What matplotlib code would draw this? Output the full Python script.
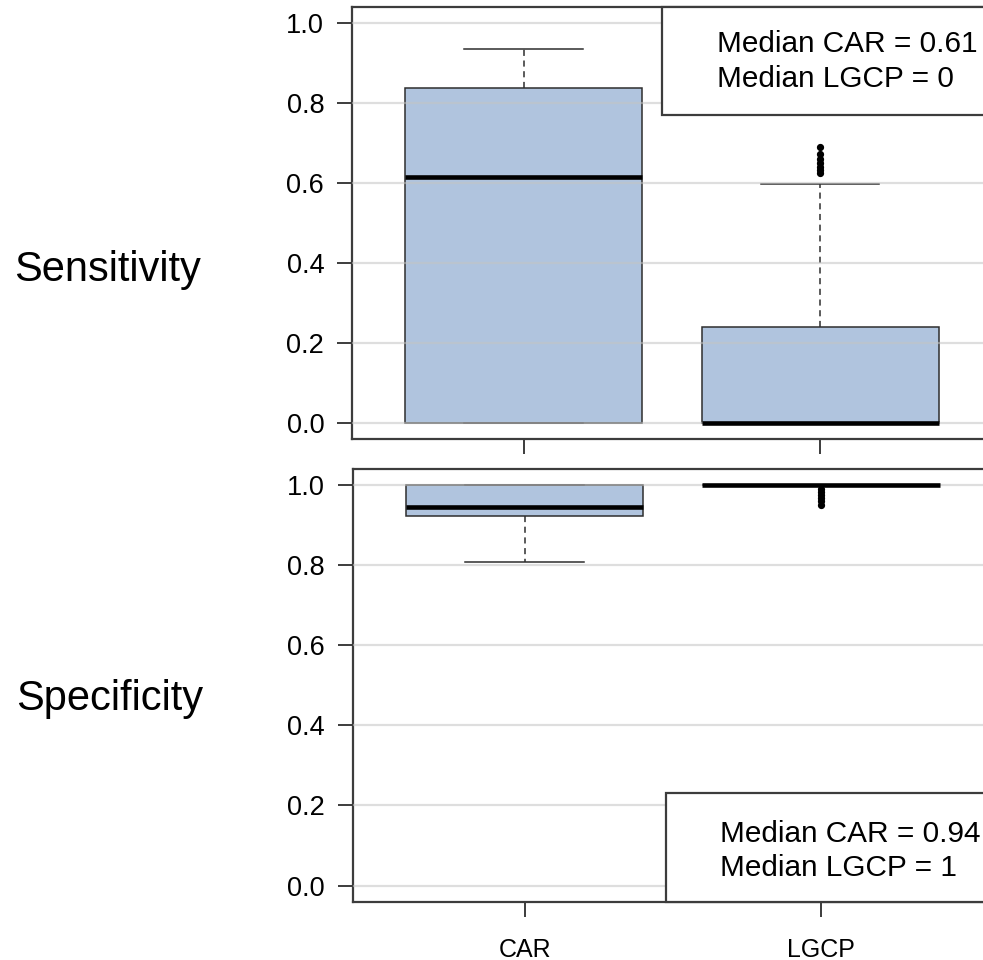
import matplotlib
matplotlib.use("Agg")
import matplotlib.pyplot as plt
from matplotlib.patches import Rectangle

plt.rcParams["font.family"] = ["Liberation Sans", "DejaVu Sans"]

# Model names
models = ["CAR", "LGCP"]

# Sensitivity: five-number summaries per model
sens_low = [0.0, 0.0]
sens_q1 = [0.0, 0.0]
sens_med = [0.615, 0.0]
sens_q3 = [0.837, 0.241]
sens_high = [0.935, 0.598]
sens_outliers = [[], [0.625, 0.632, 0.64, 0.65, 0.66, 0.672, 0.69]]

# Specificity: five-number summaries per model
spec_low = [0.807, 1.0]
spec_q1 = [0.922, 1.0]
spec_med = [0.945, 1.0]
spec_q3 = [1.0, 1.0]
spec_high = [1.0, 1.0]
spec_outliers = [[], [0.95, 0.96, 0.968, 0.975, 0.982, 0.99]]

yticks = [0.0, 0.2, 0.4, 0.6, 0.8, 1.0]
sens_note = ["Median CAR = 0.61", "Median LGCP = 0"]
spec_note = ["Median CAR = 0.94", "Median LGCP = 1"]

FILL = "#b0c4de"
EDGE = "#2e2e2e"
FRAME = "#3c3c3c"

fig = plt.figure(figsize=(9.83, 9.6), dpi=100)
ax_top = fig.add_axes([0.358, 0.5427, 0.651, 0.4500])
ax_bot = fig.add_axes([0.359, 0.0609, 0.651, 0.4506])


def stats_for(low, q1, med, q3, high, outl):
    out = []
    for i in range(len(models)):
        out.append(dict(whislo=low[i], q1=q1[i], med=med[i], q3=q3[i],
                        whishi=high[i], fliers=outl[i], label=models[i]))
    return out


def draw_panel(ax, stats, note_box, show_labels):
    parts = ax.bxp(stats, positions=[1, 2], widths=0.8, patch_artist=True,
                   showfliers=True,
                   boxprops=dict(facecolor=FILL, edgecolor=EDGE, linewidth=1.1),
                   medianprops=dict(color="black", linewidth=3.3,
                                    solid_capstyle="butt"),
                   whiskerprops=dict(color=EDGE, linewidth=1.1,
                                     linestyle=(0, (4, 3))),
                   capprops=dict(color=EDGE, linewidth=1.1),
                   capwidths=0.4,
                   flierprops=dict(marker="o", markerfacecolor="black",
                                   markeredgecolor="black", markersize=4.2))
    for ln in parts["medians"]:
        ln.set_zorder(5)
    for ln in parts["fliers"]:
        ln.set_zorder(5)
    ax.set_xlim(0.42, 2.58)
    ax.set_ylim(-0.04, 1.04)
    ax.set_yticks(yticks)
    ax.set_yticklabels([f"{v:.1f}" for v in yticks])
    for y in yticks:
        ax.axhline(y, color="#c4c4c4", alpha=0.55, linewidth=1.6, zorder=4)
    ax.set_xticks([1, 2])
    if show_labels:
        ax.set_xticklabels(models, fontsize=18)
    else:
        ax.set_xticklabels(["", ""])
    ax.tick_params(axis="y", labelsize=19.5, length=11, width=1.4,
                   color=FRAME, pad=9)
    ax.tick_params(axis="x", length=11, width=1.4, color=FRAME, pad=15)
    for sp in ax.spines.values():
        sp.set_color(FRAME)
        sp.set_linewidth(1.6)
    # annotation box anchored to the right side of the panel
    x0, y0, y1 = note_box
    ax.add_patch(Rectangle((x0, y0), 1.2 - x0, y1 - y0, transform=ax.transAxes,
                           facecolor="white", edgecolor=FRAME, linewidth=1.6,
                           zorder=6, clip_on=False))


draw_panel(ax_top, stats_for(sens_low, sens_q1, sens_med, sens_q3, sens_high,
                             sens_outliers),
           (0.484, 0.750, 1.0), False)
draw_panel(ax_bot, stats_for(spec_low, spec_q1, spec_med, spec_q3, spec_high,
                             spec_outliers),
           (0.489, 0.0, 0.250), True)

# annotation texts (figure pixel anchored)
W, H = 983, 960
for (tx, ty), line in zip([(717, 44), (717, 79)], sens_note):
    fig.text(tx / W, 1 - ty / H, line, fontsize=21.4, ha="left", va="center",
             zorder=10)
for (tx, ty), line in zip([(720, 834), (720, 868)], spec_note):
    fig.text(tx / W, 1 - ty / H, line, fontsize=21.4, ha="left", va="center",
             zorder=10)

fig.text(108 / W, 1 - 270 / H, "Sensitivity", fontsize=30, ha="center",
         va="center")
fig.text(110 / W, 1 - 699 / H, "Specificity", fontsize=30, ha="center",
         va="center")

fig.savefig("out.png", dpi=100)
